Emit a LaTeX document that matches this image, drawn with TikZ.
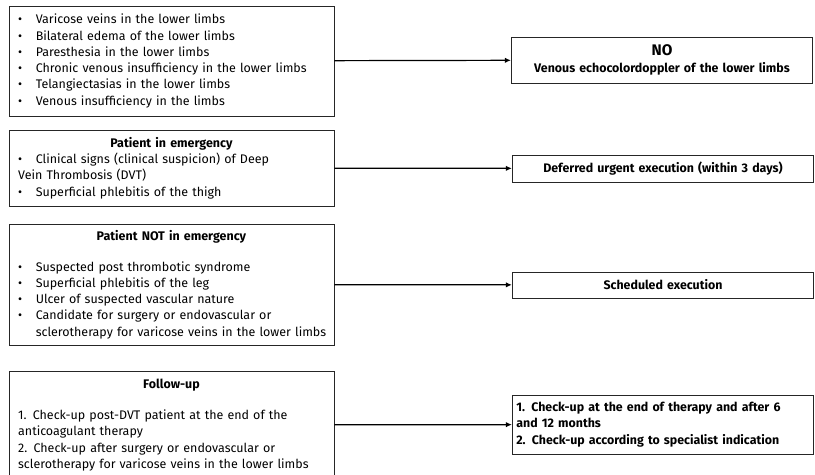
\documentclass[tikz,border=0pt]{standalone}
\usepackage{fontspec}
\setsansfont{Fira Sans}
\usetikzlibrary{arrows.meta}
\newcommand{\itm}{\makebox[13.2pt][l]{\textbullet}}
\newcommand{\hng}{\hspace*{13.2pt}}
\newcommand{\ttl}[1]{\makebox[\linewidth][c]{\textbf{#1}}}
\newcommand{\nowrap}[1]{\makebox[0pt][l]{#1}}

\begin{document}
\begin{tikzpicture}[
x=0.75pt,y=-0.75pt,
font=\sffamily\fontsize{9.35}{12.2}\selectfont,
flow/.style={-{Latex[length=4.5pt,width=4pt]},line width=0.9pt},
leftbox/.style={draw=black!85,line width=0.6pt,text width=230pt,minimum width=243.75pt,align=left,inner xsep=6.9pt,inner ysep=0pt},
rightbox/.style={draw=black!85,line width=0.6pt,text width=220pt,minimum width=226pt,align=center,inner xsep=3pt,inner ysep=0pt,font=\sffamily\bfseries\fontsize{9.3}{12.2}\selectfont}
]
\useasboundingbox (0,0) rectangle (815,475);
\node[leftbox,minimum height=82.5pt] (symptoms) at (171.5,61)
{\itm Varicose veins in the lower limbs\\
\itm Bilateral edema of the lower limbs\\
\itm Paresthesia in the lower limbs\\
\itm Chronic venous insufficiency in the lower limbs\\
\itm Telangiectasias in the lower limbs\\
\itm Venous insufficiency in the limbs};
\node[leftbox,minimum height=57pt] (emergency) at (171.5,168)
{\ttl{Patient in emergency}\\
\itm Clinical signs (clinical suspicion) of Deep\\
Vein Thrombosis (DVT)\\
\itm Superficial phlebitis of the thigh};
\node[leftbox,minimum height=90.75pt] (notemergency) at (171.5,284.5)
{\ttl{Patient NOT in emergency}\\[11pt]
\itm Suspected post thrombotic syndrome\\
\itm Superficial phlebitis of the leg\\
\itm Ulcer of suspected vascular nature\\
\itm Candidate for surgery or endovascular or\\
\hng\nowrap{sclerotherapy for varicose veins in the lower limbs}};
\node[leftbox,minimum height=80pt] (followup) at (171.5,425)
{\ttl{Follow-up}\\[11pt]
1. Check-up post-DVT patient at the end of the\\
anticoagulant therapy\\
2. Check-up after surgery or endovascular or\\
\nowrap{sclerotherapy for varicose veins in the lower limbs}};

\node[rightbox,minimum height=34.5pt] (outNo) at (662,60)
{{\fontsize{11.5}{14.5}\selectfont NO}\\ Venous echocolordoppler of the lower limbs};
\node[rightbox,minimum height=20.25pt] (outDeferred) at (663,168.5) {Deferred urgent execution (within 3 days)};
\node[rightbox,minimum height=19.5pt] (outScheduled) at (663,285) {Scheduled execution};
\node[rightbox,minimum height=44.25pt,align=left] (outCheck) at (663,424.5)
{1. Check-up at the end of therapy and after 6\\
and 12 months\\
2. Check-up according to specialist indication};

\foreach \a/\b in {symptoms/outNo,emergency/outDeferred,notemergency/outScheduled,followup/outCheck}
 \draw[flow] (\a) -- (\b);
\end{tikzpicture}
\end{document}
